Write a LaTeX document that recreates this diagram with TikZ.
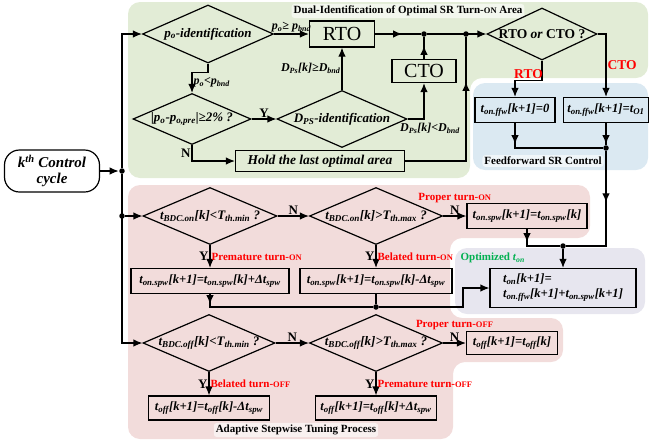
\documentclass[tikz,border=0pt]{standalone}
\usepackage{fontspec}
\setmainfont{Liberation Serif}
\usetikzlibrary{shapes}
\usetikzlibrary{arrows.meta}
\usetikzlibrary{decorations.markings}

\definecolor{greenarea}{RGB}{226,236,214}
\definecolor{bluearea}{RGB}{219,233,242}
\definecolor{pinkarea}{RGB}{242,220,219}
\definecolor{purplearea}{RGB}{231,230,239}
\definecolor{okgreen}{RGB}{0,176,80}

\newcommand{\sbs}[1]{\textsubscript{#1}}
\newcommand{\dtxt}[1]{\makebox[0pt]{#1}}
\newcommand{\smc}[1]{{\fontsize{8.5pt}{9pt}\selectfont #1}}

\begin{document}
\begin{tikzpicture}[x=1pt,y=-1pt,line width=1.2pt,>={Latex[length=9pt,width=7.5pt]}]
\tikzstyle{decision} = [diamond, draw, inner sep=0pt,
font=\fontsize{13pt}{15pt}\selectfont\bfseries\itshape]
\tikzstyle{block} = [rectangle, draw, inner sep=2pt,
font=\fontsize{12.6pt}{15pt}\selectfont\bfseries\itshape]
\tikzstyle{terminal} = [rectangle, draw, rounded corners=15pt, align=center,
font=\fontsize{15pt}{16pt}\selectfont\bfseries\itshape]
\tikzstyle{junction} = [circle, fill, inner sep=0pt, minimum size=5.5pt]
\tikzstyle{condlabel} = [inner sep=1pt, font=\fontsize{12pt}{13pt}\selectfont\bfseries\itshape]
\tikzstyle{yn} = [inner sep=1pt, font=\fontsize{13pt}{14pt}\selectfont\bfseries]
\tikzstyle{redtag} = [inner sep=1pt, text=red, font=\fontsize{11pt}{12pt}\selectfont\bfseries]
\tikzstyle{areatitle} = [fill=white, fill opacity=0.6, text opacity=1, rounded corners=3pt,
inner sep=2pt, font=\fontsize{11pt}{12pt}\selectfont\bfseries]
\tikzset{midarrow/.style={postaction={decorate},
decoration={markings, mark=at position #1 with {\arrow{>}}}}}
\useasboundingbox (0,0) rectangle (651,445);
% areas
\fill[greenarea, rounded corners=12pt] (128,2) -- (648,2) -- (648,78) -- (470,78)
-- (470,178) -- (128,178) -- cycle;
\fill[bluearea, rounded corners=12pt] (473,83) rectangle (648,170);
\fill[pinkarea, rounded corners=12pt] (128,185) -- (590,185) -- (590,238) -- (450,238)
-- (450,318) -- (563,318) -- (563,362) -- (453,362) -- (453,439) -- (128,439) -- cycle;
\fill[purplearea, rounded corners=12pt] (455,248) rectangle (645,314);
\node[areatitle] (dualtitle) at (408,11) {Dual-Identification of Optimal SR Turn-\smc{ON} Area};
\node[areatitle] (fftitle) at (543,161) {Feedforward SR Control};
\node[areatitle] (adtitle) at (296,430) {Adaptive Stepwise Tuning Process};
\node[redtag, text=okgreen, anchor=west] (opttitle) at (459,258) {Optimized \textit{t}\sbs{\textit{on}}};
% start
\node[terminal, minimum width=95pt, minimum height=42pt] (start) at (52,171) {k\textsuperscript{th} Control\\cycle};
% dual identification
\node[decision, minimum width=131pt, minimum height=58pt] (po) at (208,34) {\dtxt{p\sbs{o}-identification}};
\node[block, minimum width=65pt, minimum height=26pt, font=\fontsize{20pt}{22pt}\selectfont] (rto) at (342,34) {RTO};
\node[block, minimum width=64pt, minimum height=23pt, font=\fontsize{20pt}{22pt}\selectfont] (cto) at (424,71) {CTO};
\node[decision, minimum width=118pt, minimum height=51pt] (pdiff) at (192,119) {\dtxt{|p\sbs{o}-p\sbs{o,pre}|≥2\% ?}};
\node[decision, minimum width=130pt, minimum height=57pt] (dps) at (342,119) {\dtxt{D\sbs{PS}-identification}};
\node[block, minimum width=169pt, minimum height=21pt, font=\fontsize{13.5pt}{15pt}\selectfont\bfseries\itshape] (hold) at (320,161) {Hold the last optimal area};
\node[decision, minimum width=110pt, minimum height=52pt, font=\fontsize{13.5pt}{15pt}\selectfont\bfseries] (sel) at (542,34) {\dtxt{RTO \textit{or} CTO ?}};
% feedforward
\node[block, minimum width=80pt, minimum height=25pt] (ffa) at (515,110) {t\sbs{on.ffw}[k+1]=0};
\node[block, minimum width=85pt, minimum height=25pt] (ffb) at (606,110) {t\sbs{on.ffw}[k+1]=t\sbs{O1}};
% stepwise tuning
\node[decision, minimum width=134pt, minimum height=57pt] (ona) at (210,216) {\dtxt{t\sbs{BDC.on}[k]<T\sbs{th.min} ?}};
\node[decision, minimum width=133pt, minimum height=57pt] (onb) at (376,216) {\dtxt{t\sbs{BDC.on}[k]>T\sbs{th.max} ?}};
\node[block, minimum width=120pt, minimum height=25pt] (onkeep) at (527,216) {t\sbs{on.spw}[k+1]=t\sbs{on.spw}[k]};
\node[block, minimum width=158pt, minimum height=25pt] (onup) at (210,281) {t\sbs{on.spw}[k+1]=t\sbs{on.spw}[k]+Δt\sbs{spw}};
\node[block, minimum width=152pt, minimum height=25pt] (ondown) at (376,281) {t\sbs{on.spw}[k+1]=t\sbs{on.spw}[k]-Δt\sbs{spw}};
\node[block, minimum width=146pt, minimum height=39pt, align=left] (opt) at (563,288) {t\sbs{on}[k+1]=\\t\sbs{on.ffw}[k+1]+t\sbs{on.spw}[k+1]};
\node[decision, minimum width=132pt, minimum height=57pt] (offa) at (209,343) {\dtxt{t\sbs{BDC.off}[k]<T\sbs{th.min} ?}};
\node[decision, minimum width=133pt, minimum height=57pt] (offb) at (376,343) {\dtxt{t\sbs{BDC.off}[k]>T\sbs{th.max} ?}};
\node[block, minimum width=91pt, minimum height=23pt] (offkeep) at (512,343) {t\sbs{off}[k+1]=t\sbs{off}[k]};
\node[block, minimum width=121pt, minimum height=24pt] (offdown) at (209,408) {t\sbs{off}[k+1]=t\sbs{off}[k]-Δt\sbs{spw}};
\node[block, minimum width=121pt, minimum height=24pt] (offup) at (376,408) {t\sbs{off}[k+1]=t\sbs{off}[k]+Δt\sbs{spw}};
% junctions
\node[junction] (jstart) at (122,171) {};
\node[junction] (jon) at (122,216) {};
\node[junction] (jcto) at (424,34) {};
\node[junction] (jhold) at (466,34) {};
\node[junction] (jff) at (606,148) {};
\node[junction] (jopt) at (563,246) {};
\node[junction] (jspw) at (376,307) {};
% connectors
\draw[->] (start) -- (jstart);
\draw[->] (jstart) |- (po.west);
\draw[->] (jstart) |- (offa.west);
\draw[->] (jon) -- (ona.west);
\draw[->] (po) -- node[condlabel, above] {p\sbs{o}≥ p\sbs{bnd}} (rto);
\draw[->] (po.south) -- ++(0,9) -| node[condlabel, right, pos=0.75] {p\sbs{o}<p\sbs{bnd}} (pdiff.north);
\draw[->] (pdiff) -- node[yn, above] {Y} (dps);
\draw[->] (pdiff.south) |- node[yn, left, pos=0.25] {N} (hold.west);
\draw[->] (dps) -- node[condlabel, left] {D\sbs{Ps}[k]≥D\sbs{bnd}} (rto);
\draw[->] (dps.east) -| node[condlabel, below, pos=0.5, xshift=6pt, yshift=-3pt] {D\sbs{Ps}[k]<D\sbs{bnd}} (cto.south);
\draw[midarrow=13pt] (cto) -- (jcto);
\draw[midarrow=27pt] (rto) -- (jcto);
\draw[->] (jcto) -- (sel);
\draw[midarrow=140pt] (hold) -| (jhold);
\draw[->] (sel.south) -- ++(0,20) -| node[redtag, pos=0.25, above, font=\fontsize{13.5pt}{14pt}\selectfont\bfseries] {RTO} (ffa.north);
\draw[->] (sel.east) -| node[redtag, pos=0.75, right, font=\fontsize{13.5pt}{14pt}\selectfont\bfseries] {CTO} (ffb.north);
\draw[midarrow=21pt] (ffa) |- (jff);
\draw[midarrow=21pt] (ffb) -- (jff);
\draw[midarrow=51pt] (jff) |- (jopt);
\draw[midarrow=13pt] (onkeep) |- (jopt);
\draw[->] (jopt) -- (opt);
\draw[->] (ona) -- node[yn, above] {N} (onb);
\draw[->] (onb) -- node[yn, above] {N} node[redtag, above=12pt] {Proper turn-\smc{ON}} (onkeep);
\draw[->] (ona) -- node[yn, left] {Y} node[redtag, right] {Premature turn-\smc{ON}} (onup);
\draw[->] (onb) -- node[yn, left] {Y} node[redtag, right] {Belated turn-\smc{ON}} (ondown);
\draw[midarrow=10pt] (onup) |- (jspw);
\draw[midarrow=10pt] (ondown) -- (jspw);
\draw[->] (jspw) -- ++(87,0) |- (opt.west);
\draw[->] (offa) -- node[yn, above] {N} (offb);
\draw[->] (offb) -- node[yn, above] {N} node[redtag, above=12pt] {Proper turn-\smc{OFF}} (offkeep);
\draw[->] (offa) -- node[yn, left] {Y} node[redtag, right] {Belated turn-\smc{OFF}} (offdown);
\draw[->] (offb) -- node[yn, left] {Y} node[redtag, right] {Premature turn-\smc{OFF}} (offup);
\end{tikzpicture}
\end{document}
